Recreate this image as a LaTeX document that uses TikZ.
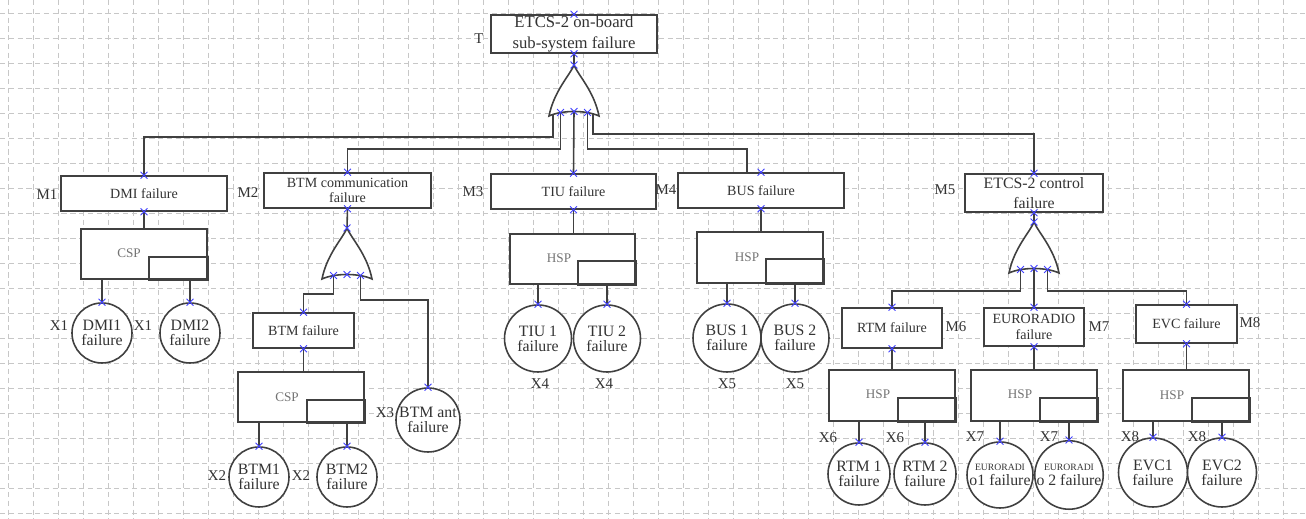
\documentclass[tikz,border=0pt]{standalone}
\usepackage{fontspec}
\setmainfont{Liberation Serif}
\usetikzlibrary{shapes.misc,calc}
\tikzset{orgate/.pic={
  \draw[gline,fill=white] (0,0) .. controls (-4,10) and (-20,26) .. (-25,51)
    .. controls (-12,45) and (12,45) .. (25,51)
    .. controls (20,26) and (4,10) .. (0,0) -- cycle;
  \coordinate (-apex) at (0,0);
  \coordinate (-in1) at (-13.5,47.5);
  \coordinate (-in2) at (0,46.5);
  \coordinate (-in3) at (13.5,47.5);
  \coordinate (-o1) at (-21,49.5);
  \coordinate (-o5) at (19,49);
}}

\begin{document}
\begin{tikzpicture}[x=0.02cm,y=-0.02cm,
  gline/.style={draw=black!75,line width=0.9pt},
  sz/.style 2 args={minimum width=#1*0.02cm,minimum height=#2*0.02cm},
  evt/.style={rectangle,gline,fill=white,inner sep=0pt,align=center,text=black!80,font=\fontsize{8}{9}\selectfont},
  topevt/.style={evt,font=\fontsize{9.5}{12}\selectfont},
  spbox/.style={rectangle,gline,fill=white,inner sep=0pt},
  sptxt/.style={text=black!55,font=\fontsize{7.5}{9}\selectfont},
  basic/.style={circle,gline,fill=white,inner sep=0pt,align=center,text=black!80,minimum size=#1*0.02cm,font=\fontsize{9}{8.6}\selectfont},
  lbl/.style={text=black!80,font=\fontsize{8.5}{10}\selectfont},
  xmk/.style={cross out,draw=blue!75,line width=0.5pt,minimum size=0.12cm,inner sep=0pt}]
\useasboundingbox[fill=white] (0,0) rectangle (1306,519);
% background grid
\foreach \x in {8,33,...,1306} \draw[black!22,line width=0.4pt,dash pattern=on 3pt off 2pt] (\x,0) -- (\x,519);
\foreach \y in {13,38,...,519} \draw[black!22,line width=0.4pt,dash pattern=on 3pt off 2pt] (0,\y) -- (1306,\y);

% top event and gate
\node[topevt,sz={166}{38}] (t) at (574,34) {ETCS-2 on-board\\sub-system failure};
\node[lbl] at (479,39) {T};
\pic (g0) at (574,65) {orgate};

% M1
\node[evt,sz={166}{35}] (m1) at (144,193.5) {DMI failure};
\node[lbl] at (47,195) {M1};
\node[spbox,sz={126}{50}] (sp1) at (144,254) {};
\draw[gline] (sp1.south east) rectangle ++(-59,-23);
\node[sptxt] (sp1t) at (129,253) {CSP};
\node[basic=60] (x1a) at (102,333) {DMI1\\failure};
\node[basic=60] (x1b) at (190,333) {DMI2\\failure};
\node[lbl] at (59,326) {X1}; \node[lbl] at (143,326) {X1};

% M2
\node[evt,sz={167}{35}] (m2) at (347.5,190.5) {BTM communication\\failure};
\node[lbl] at (248,193) {M2};
\pic (g1) at (347,228) {orgate};
\node[evt,sz={101}{35}] (bf) at (303.5,330.5) {BTM failure};
\node[spbox,sz={126}{50}] (sp2) at (301,397) {};
\draw[gline] (sp2.south east) rectangle ++(-58,-23);
\node[sptxt] (sp2t) at (287,397) {CSP};
\node[basic=60] (x2a) at (259,477) {BTM1\\failure};
\node[basic=60] (x2b) at (347,477) {BTM2\\failure};
\node[lbl] at (217,476) {X2}; \node[lbl] at (301,476) {X2};
\node[basic=64] (x3) at (428,420) {BTM ant\\failure};
\node[lbl] at (385,413) {X3};

% M3
\node[evt,sz={165}{35}] (m3) at (573.5,191.5) {TIU failure};
\node[lbl] at (473,192) {M3};
\node[spbox,sz={125}{50}] (sp3) at (572.5,259) {};
\draw[gline] (sp3.south east) rectangle ++(-58,-24);
\node[sptxt] (sp3t) at (559,258) {HSP};
\node[basic=67] (x4a) at (538,338.5) {TIU 1\\failure};
\node[basic=67] (x4b) at (607,338.5) {TIU 2\\failure};
\node[lbl] at (540,384) {X4}; \node[lbl] at (604,384) {X4};

% M4
\node[evt,sz={166}{35}] (m4) at (761,190.5) {BUS failure};
\node[lbl] at (666,190) {M4};
\node[spbox,sz={126}{51}] (sp4) at (760,257.5) {};
\draw[gline] (sp4.south east) rectangle ++(-58,-25);
\node[sptxt] (sp4t) at (747,257) {HSP};
\node[basic=68] (x5a) at (727,338) {BUS 1\\failure};
\node[basic=68] (x5b) at (795,338) {BUS 2\\failure};
\node[lbl] at (727,384) {X5}; \node[lbl] at (795,384) {X5};

% M5
\node[topevt,sz={138}{38},font=\fontsize{9}{11.7}\selectfont] (m5) at (1034,193) {ETCS-2 control\\failure};
\node[lbl] at (945,190) {M5};
\pic (g2) at (1034,222) {orgate};
\node[evt,sz={100}{40}] (m6) at (892,328) {RTM failure};
\node[lbl] at (956,327) {M6};
\node[evt,sz={100}{38},font=\fontsize{8}{9.4}\selectfont] (m7) at (1034,327) {EURORADIO\\failure};
\node[lbl] at (1099,327) {M7};
\node[evt,sz={101}{38}] (m8) at (1186.5,324) {EVC failure};
\node[lbl] at (1250,323) {M8};
\node[spbox,sz={126}{51}] (sp6) at (892,395.5) {};
\draw[gline] (sp6.south east) rectangle ++(-58,-24);
\node[sptxt] (sp6t) at (878,394) {HSP};
\node[spbox,sz={126}{51}] (sp7) at (1034,395.5) {};
\draw[gline] (sp7.south east) rectangle ++(-58,-24);
\node[sptxt] (sp7t) at (1020,394) {HSP};
\node[spbox,sz={126}{51}] (sp8) at (1186,395.5) {};
\draw[gline] (sp8.south east) rectangle ++(-58,-24);
\node[sptxt] (sp8t) at (1172,395) {HSP};
\node[basic=62] (x6a) at (859,474) {RTM 1\\failure};
\node[basic=62] (x6b) at (925,474) {RTM 2\\failure};
\node[lbl] at (828,438) {X6}; \node[lbl] at (895,438) {X6};
\node[basic=66] (x7a) at (1000,475) {{\fontsize{5.5}{6}\selectfont EURORADI}\\o1 failure};
\node[basic=66] (x7b) at (1069,475) {{\fontsize{5.5}{6}\selectfont EURORADI}\\o 2 failure};
\node[lbl] at (975,437) {X7}; \node[lbl] at (1049,437) {X7};
\node[basic=69] (x8a) at (1153,472.5) {EVC1\\failure};
\node[basic=69] (x8b) at (1222,472.5) {EVC2\\failure};
\node[lbl] at (1130,437) {X8}; \node[lbl] at (1197,437) {X8};

% connectors
\draw[gline] (t.south) -- (g0-apex);
\draw[gline] (g0-o1) -- ++(0,22.5) -| (m1.north);
\draw[gline] (g0-in1) -- ++(0,36.5) -| (m2.north);
\draw[gline] (g0-in2) -- (m3.north);
\draw[gline] (g0-in3) -- ++(0,36.5) -| ($(m4.north)+(-14,0)$);
\draw[gline] (g0-o5) -- ++(0,20) -| (m5.north);
\draw[gline] (m1.south) -- (sp1.north);
\draw[gline] (x1a.north) -- (x1a.north |- sp1.south);
\draw[gline] (x1b.north) -- (x1b.north |- sp1.south);
\draw[gline] (m2.south) -- (g1-apex);
\draw[gline] (g1-in1) -- ++(0,18.5) -| (bf.north);
\draw[gline] (g1-in3) -- ++(0,24.5) -| (x3.north);
\draw[gline] (bf.south) -- (bf.south |- sp2.north);
\draw[gline] (x2a.north) -- (x2a.north |- sp2.south);
\draw[gline] (x2b.north) -- (x2b.north |- sp2.south);
\draw[gline] (m3.south) -- (m3.south |- sp3.north);
\draw[gline] (x4a.north) -- (x4a.north |- sp3.south);
\draw[gline] (x4b.north) -- (x4b.north |- sp3.south);
\draw[gline] (m4.south) -- (m4.south |- sp4.north);
\draw[gline] (x5a.north) -- (x5a.north |- sp4.south);
\draw[gline] (x5b.north) -- (x5b.north |- sp4.south);
\draw[gline] (m5.south) -- (g2-apex);
\draw[gline] (g2-in1) -- ++(0,21.5) -| (m6.north);
\draw[gline] (g2-in2) -- (m7.north);
\draw[gline] (g2-in3) -- ++(0,21.5) -| (m8.north);
\draw[gline] (m6.south) -- (sp6.north);
\draw[gline] (m7.south) -- (sp7.north);
\draw[gline] (m8.south) -- (m8.south |- sp8.north);
\draw[gline] (x6a.north) -- (x6a.north |- sp6.south);
\draw[gline] (x6b.north) -- (x6b.north |- sp6.south);
\draw[gline] (x7a.north) -- (x7a.north |- sp7.south);
\draw[gline] (x7b.north) -- (x7b.north |- sp7.south);
\draw[gline] (x8a.north) -- (x8a.north |- sp8.south);
\draw[gline] (x8b.north) -- (x8b.north |- sp8.south);

% connection marks
\foreach \p in {t.north,t.south,g0-apex,g0-in1,g0-in2,g0-in3,
  m1.north,m1.south,m2.north,m2.south,g1-apex,g1-in1,g1-in2,g1-in3,bf.north,bf.south,
  m3.north,m3.south,m4.north,m4.south,m5.north,m5.south,g2-apex,g2-in1,g2-in2,g2-in3,
  m6.north,m6.south,m7.north,m7.south,m8.north,m8.south,
  x1a.north,x1b.north,x2a.north,x2b.north,x3.north,x4a.north,x4b.north,x5a.north,x5b.north,
  x6a.north,x6b.north,x7a.north,x7b.north,x8a.north,x8b.north}
  \node[xmk] at (\p) {};
\end{tikzpicture}
\end{document}
